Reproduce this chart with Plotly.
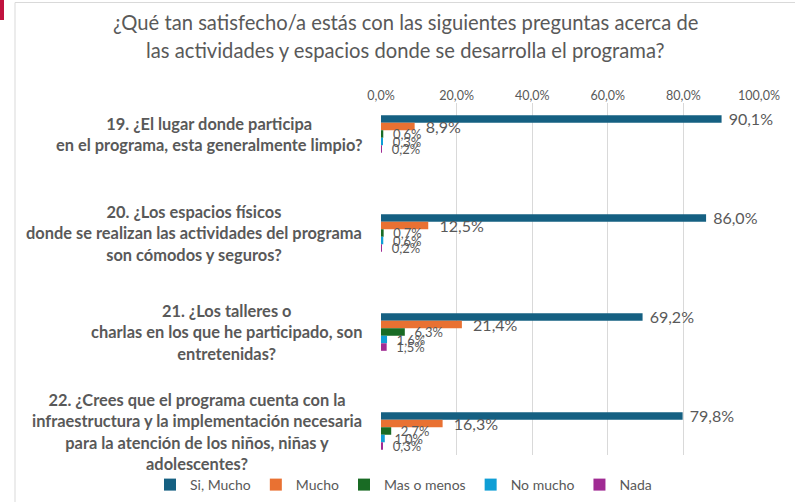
import plotly.graph_objects as go

categories = [
    "19. ¿El lugar donde participa<br>en el programa, esta generalmente limpio?",
    "20. ¿Los espacios físicos<br>donde se realizan las actividades del programa<br>son cómodos y seguros?",
    "21. ¿Los talleres o<br>charlas en los que he participado, son<br>entretenidas?",
    "22. ¿Crees que el programa cuenta con la<br>infraestructura y la implementación necesaria<br>para la atención de los niños, niñas y<br>adolescentes?",
]
series_names = ["Si, Mucho", "Mucho", "Mas o menos", "No mucho", "Nada"]
si_mucho = [0.901, 0.860, 0.692, 0.798]
mucho = [0.089, 0.125, 0.214, 0.163]
mas_o_menos = [0.006, 0.007, 0.063, 0.027]
no_mucho = [0.003, 0.006, 0.016, 0.010]
nada = [0.002, 0.002, 0.015, 0.003]
tick_values = [0, 0.2, 0.4, 0.6, 0.8, 1.0]
title_lines = ["¿Qué tan satisfecho/a estás con las siguientes preguntas acerca de",
               "las actividades y espacios donde se desarrolla el programa?"]

values = [si_mucho, mucho, mas_o_menos, no_mucho, nada]
colors = ["#156082", "#E97132", "#196B24", "#0F9ED5", "#A02B93"]
label_sizes = [16, 16, 13, 13, 13]
label_pads = ["\u00a0", "\u00a0\u00a0", "\u00a0\u00a0", "\u00a0\u00a0", "\u00a0\u00a0"]

W, H = 795, 502
L, R, T, B = 381, 759, 103, 455
pw, ph = R - L, B - T

ypos = list(range(len(categories)))

fig = go.Figure()
for name, vals, col, fs, pad in zip(series_names, values, colors, label_sizes, label_pads):
    fig.add_trace(go.Bar(
        y=ypos, x=vals, name=name, orientation="h",
        marker=dict(color=col, line=dict(width=0)),
        texttemplate=pad + "%{x:.1%}", textposition="outside",
        constraintext="none", cliponaxis=False,
        textfont=dict(size=fs, color="#595959", family="Lato"),
        hoverinfo="skip",
    ))

annotations = []
for i, c in enumerate(categories):
    annotations.append(dict(
        x=(364 - L) / pw, xref="paper", y=i, yref="y",
        text="<b>" + c + "</b>", showarrow=False, xanchor="right",
        yanchor="middle", align="center",
        font=dict(family="Lato", size=16.4, color="#595959"),
    ))
for t, yy in zip(title_lines, [22, 50]):
    annotations.append(dict(
        x=(405 - L) / pw, xref="paper", y=(B - yy) / ph, yref="paper",
        text=t, showarrow=False, xanchor="center", yanchor="middle",
        font=dict(family="Lato", size=20.2, color="#595959"),
    ))

shapes = [
    dict(type="rect", xref="paper", yref="paper",
         x0=(15 - L) / pw, x1=(800 - L) / pw,
         y0=(B - 510) / ph, y1=(B - 2.5) / ph,
         line=dict(color="#D9D9D9", width=1), fillcolor="rgba(0,0,0,0)", layer="below"),
    dict(type="rect", xref="paper", yref="paper",
         x0=(0 - L) / pw, x1=(4 - L) / pw,
         y0=(B - 20) / ph, y1=(B - 0) / ph,
         line=dict(width=0), fillcolor="#C0123E", layer="above"),
]

fig.update_layout(
    width=W, height=H,
    margin=dict(l=L, r=W - R, t=T, b=H - B, autoexpand=False),
    paper_bgcolor="white", plot_bgcolor="white",
    separators=",.",
    barmode="group", bargap=0.62, bargroupgap=0,
    font=dict(family="Lato", color="#595959"),
    xaxis=dict(side="top", range=[0, 1], tickvals=tick_values, tickformat=".1%",
               showgrid=True, gridcolor="#D9D9D9", gridwidth=1, zeroline=False,
               showline=False, ticks="",
               tickfont=dict(size=12.5, color="#595959", family="Lato"), fixedrange=True),
    yaxis=dict(range=[3 + (B - 431) / 99, -(134 - T) / 99], showticklabels=False,
               showgrid=False, zeroline=False, showline=False, fixedrange=True),
    legend=dict(orientation="h", xref="paper", yref="paper",
                x=(150 - L) / pw, xanchor="left", y=(B - 485) / ph, yanchor="middle",
                font=dict(size=14, color="#595959", family="Lato"),
                itemwidth=30, traceorder="normal", bgcolor="rgba(0,0,0,0)"),
    annotations=annotations,
    shapes=shapes,
    showlegend=True,
)

fig.write_html("out.html", config={"displayModeBar": False},
               post_script="document.body.style.margin='0';")
